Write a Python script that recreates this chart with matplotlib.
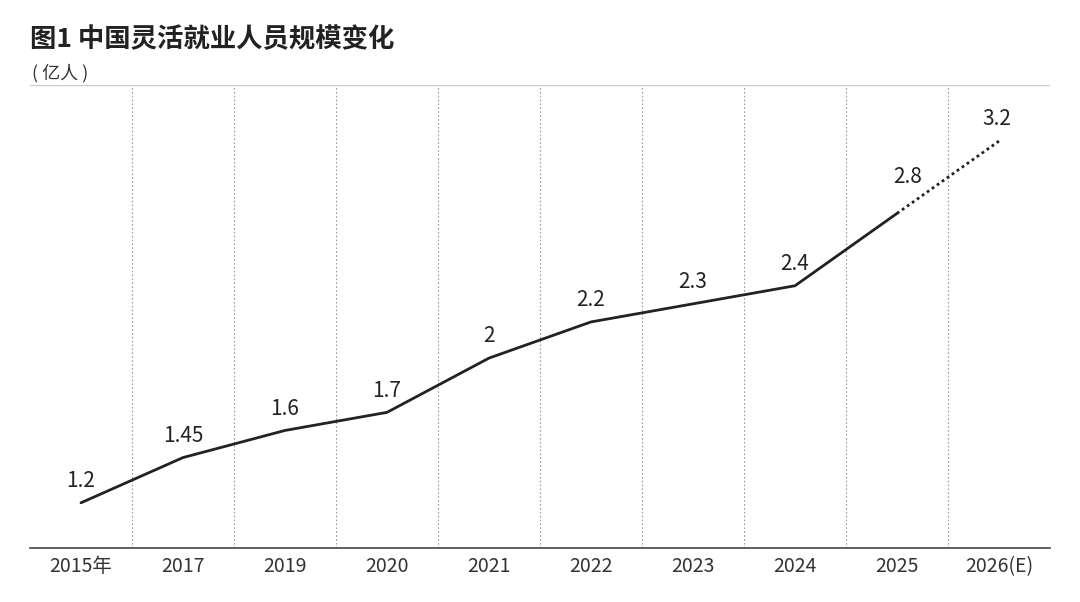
import matplotlib
matplotlib.use("Agg")
import matplotlib.pyplot as plt

plt.rcParams['font.family'] = ['Noto Sans CJK SC', 'DejaVu Sans']

years = ["2015年", "2017", "2019", "2020", "2021", "2022", "2023", "2024", "2025", "2026(E)"]
values = [1.2, 1.45, 1.6, 1.7, 2.0, 2.2, 2.3, 2.4, 2.8, 3.2]
labels = ["1.2", "1.45", "1.6", "1.7", "2", "2.2", "2.3", "2.4", "2.8", "3.2"]

fig = plt.figure(figsize=(10.8, 6.02), dpi=100)
ax = fig.add_axes([30/1080, 1-548/602, 1020/1080, 463/602])
n = len(years)
x = list(range(n))
ax.set_xlim(-0.5, n-0.5)
ax.set_ylim(0.95, 3.51)

for b in range(1, n):
    ax.axvline(b-0.5, color='#999999', lw=0.8, ls=(0, (1.5, 2)))
ax.axhline(3.51, color='#cccccc', lw=1)

ax.plot(x[:-1], values[:-1], color='#222222', lw=2, solid_capstyle='round')
ax.plot(x[-2:], values[-2:], color='#222222', lw=2, ls=(0, (1, 1.2)))

for i, (v, l) in enumerate(zip(values, labels)):
    dx, dy = 0, 0.12
    if i == 8:
        dx, dy = 0.1, 0.2
    if i == 9:
        dx, dy = -0.02, 0.12
    ax.text(i+dx, v+dy, l, ha='center', va='center', fontsize=15,
            fontweight='medium', color='#222222')

for s in ['top', 'right', 'left']:
    ax.spines[s].set_visible(False)
ax.spines['bottom'].set_color('#444444')
ax.spines['bottom'].set_linewidth(1.2)
ax.set_yticks([])
ax.set_xticks(x)
ax.set_xticklabels(years, fontsize=14, color='#333333')
ax.tick_params(axis='x', length=0, pad=6)

fig.text(30/1080, 1-40/602, "图1 中国灵活就业人员规模变化", fontsize=19, fontweight='bold', color='#222222', va='center')
fig.text(32/1080, 1-73/602, "( 亿人 )", fontsize=13, color='#333333', va='center')

fig.savefig("out.png", dpi=100, facecolor='white')
